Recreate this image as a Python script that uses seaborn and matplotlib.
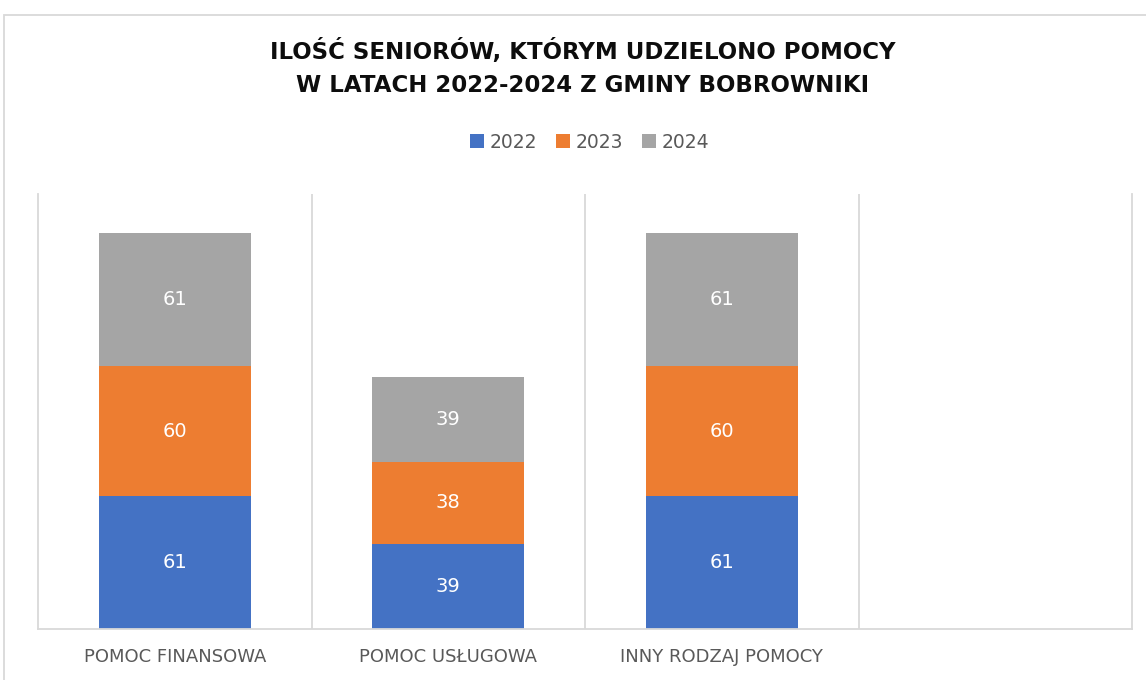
import matplotlib
matplotlib.use("Agg")
import matplotlib.pyplot as plt
from matplotlib.patches import Patch, Rectangle
import numpy as np
import pandas as pd
import seaborn as sns

# Data
categories = ["POMOC FINANSOWA", "POMOC USŁUGOWA", "INNY RODZAJ POMOCY", ""]
years = ["2022", "2023", "2024"]
v2022 = [61, 39, 61]
v2023 = [60, 38, 60]
v2024 = [61, 39, 61]
colors = ["#4472C4", "#ED7D31", "#A5A5A5"]

sns.set_theme(style="white")
plt.rcParams["font.family"] = ["DejaVu Sans"]

fig = plt.figure(figsize=(11.46, 6.8), dpi=100)
ax = fig.add_axes([38 / 1146, 51 / 680, (1132 - 38) / 1146, (629 - 194) / 680])

df = pd.DataFrame({
    "kategoria": categories[:3],
    "2022": v2022,
    "2023": v2023,
    "2024": v2024,
})
df["c1"] = df["2022"]
df["c2"] = df["2022"] + df["2023"]
df["c3"] = df["c2"] + df["2024"]

# stacked bars drawn as cumulative layers, tallest first
for col, colr in zip(["c3", "c2", "c1"], colors[::-1]):
    sns.barplot(data=df, x="kategoria", y=col, order=categories, color=colr,
                width=0.556, ax=ax, saturation=1, linewidth=0, errorbar=None)

# segment value labels
for i, row in df.iterrows():
    base = 0
    for y in years:
        val = row[y]
        ax.text(i, base + val / 2, f"{val}", ha="center", va="center",
                color="white", fontsize=14)
        base += val

ax.set_xlim(-0.5, 3.5)
ax.set_ylim(0, 200)
ax.set_yticks([])
ax.set_xlabel("")
ax.set_ylabel("")

# vertical separators between categories
for xb in [0.5, 1.5, 2.5]:
    ax.axvline(xb, color="#D9D9D9", lw=1.3, zorder=0)
for side in ["left", "right", "bottom"]:
    ax.spines[side].set_color("#D9D9D9")
    ax.spines[side].set_linewidth(1.3)
ax.spines["top"].set_visible(False)

ax.set_xticks(range(4))
ax.set_xticklabels(categories, fontsize=13, color="#595959")
ax.tick_params(axis="x", length=0, pad=14)

# title
fig.text(583 / 1146, 1 - 52 / 680, "ILOŚĆ SENIORÓW, KTÓRYM UDZIELONO POMOCY",
         ha="center", va="center", fontsize=16.5, fontweight="bold", color="#0D0D0D")
fig.text(583 / 1146, 1 - 86 / 680, "W LATACH 2022-2024 Z GMINY BOBROWNIKI",
         ha="center", va="center", fontsize=16.5, fontweight="bold", color="#0D0D0D")

# legend
handles = [Patch(facecolor=c, edgecolor="none", label=y) for c, y in zip(colors, years)]
fig.legend(handles=handles, loc="center", bbox_to_anchor=(590 / 1146, 1 - 142 / 680),
           ncol=3, frameon=False, fontsize=13.5, handlelength=0.75, handleheight=0.75,
           handletextpad=0.3, columnspacing=1.0, labelcolor="#595959")

# outer chart border
fig.patches.append(Rectangle((4 / 1146, -0.1), 1.2, 1 - 15 / 680 + 0.1,
                             transform=fig.transFigure, fill=False,
                             edgecolor="#D9D9D9", lw=1.3))

fig.savefig("out.png", dpi=100)
